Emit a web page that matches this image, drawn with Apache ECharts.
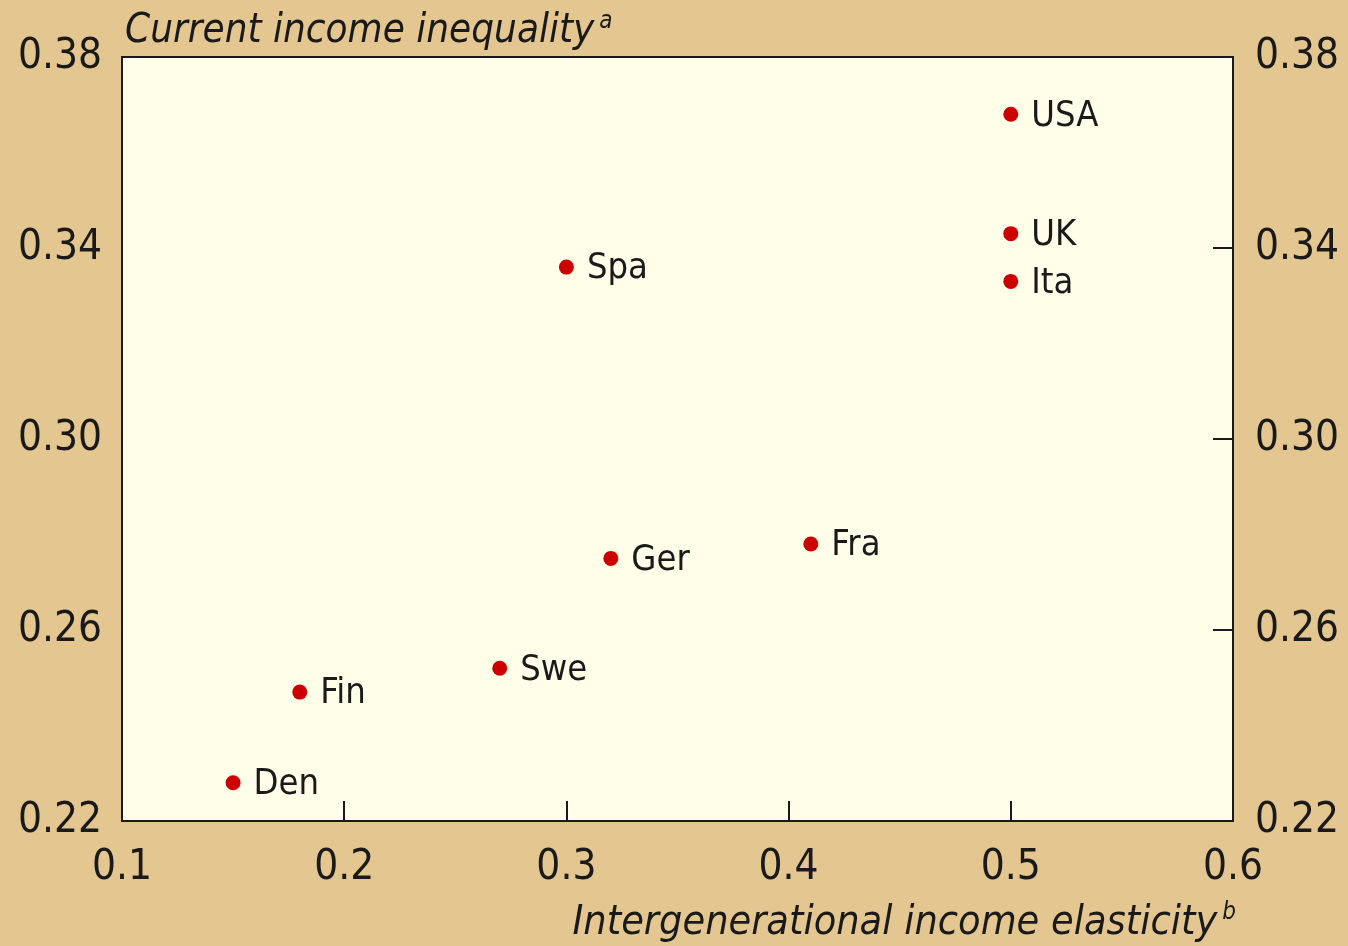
<!DOCTYPE html>
<html>
<head>
<meta charset="utf-8">
<script src="https://cdn.jsdelivr.net/npm/echarts@6/dist/echarts.min.js"></script>
<style>
  html, body { margin: 0; padding: 0; background: #e3c690; }
  #chart { width: 1348px; height: 946px; }
</style>
</head>
<body>
<div id="chart"></div>
<script>
// data
const countries = ['USA', 'UK', 'Ita', 'Spa', 'Ger', 'Fra', 'Swe', 'Fin', 'Den'];
const elasticity = [0.50, 0.50, 0.50, 0.30, 0.32, 0.41, 0.27, 0.18, 0.15];
const inequality = [0.368, 0.343, 0.333, 0.336, 0.275, 0.278, 0.252, 0.247, 0.228];
const yTicks = [0.22, 0.26, 0.30, 0.34, 0.38];
const xTicks = [0.1, 0.2, 0.3, 0.4, 0.5, 0.6];

const font = '"DejaVu Sans Condensed", "Liberation Sans", sans-serif';
const ink = '#1a1a1a';

const chart = echarts.init(document.getElementById('chart'));

const yAxisBase = {
  type: 'value',
  min: yTicks[0],
  max: yTicks[yTicks.length - 1],
  interval: 0.04,
  splitLine: { show: false },
  axisLine: { show: true, lineStyle: { color: ink, width: 2 } },
  axisLabel: {
    color: ink,
    fontSize: 42,
    fontFamily: font,
    formatter: v => v.toFixed(2)
  }
};

const supStyle = { fontSize: 24, fontStyle: 'italic', fontFamily: font, fill: ink, verticalAlign: 'top', padding: [0, 0, 20, 5] };

const option = {
  backgroundColor: '#e3c690',
  textStyle: { fontFamily: font },
  grid: {
    left: 122, right: 115, top: 57, bottom: 125,
    show: true,
    backgroundColor: '#fffee8',
    borderColor: ink,
    borderWidth: 2
  },
  graphic: [
    {
      type: 'text',
      left: 125, top: 10,
      style: {
        text: '{t|Current income inequality}{s|a}',
        rich: {
          t: { fontSize: 40, fontStyle: 'italic', fontFamily: font, fill: ink },
          s: supStyle
        }
      }
    },
    {
      type: 'text',
      right: 112, top: 901,
      style: {
        text: '{t|Intergenerational income elasticity}{s|b}',
        rich: {
          t: { fontSize: 41, fontStyle: 'italic', fontFamily: font, fill: ink },
          s: supStyle
        }
      }
    }
  ],
  xAxis: {
    type: 'value',
    min: xTicks[0],
    max: xTicks[xTicks.length - 1],
    interval: 0.1,
    splitLine: { show: false },
    axisLine: { show: true, lineStyle: { color: ink, width: 2 } },
    axisTick: { show: true, inside: true, length: 20, lineStyle: { color: ink, width: 2 } },
    axisLabel: {
      color: ink,
      fontSize: 42,
      fontFamily: font,
      margin: 26,
      formatter: v => String(+v.toFixed(1))
    }
  },
  yAxis: [
    Object.assign({}, yAxisBase, {
      position: 'left',
      axisTick: { show: false },
      axisLabel: Object.assign({}, yAxisBase.axisLabel, { margin: 20 })
    }),
    Object.assign({}, yAxisBase, {
      position: 'right',
      axisTick: { show: true, inside: true, length: 20, lineStyle: { color: ink, width: 2 } },
      axisLabel: Object.assign({}, yAxisBase.axisLabel, { margin: 22 })
    })
  ],
  series: [{
    type: 'scatter',
    yAxisIndex: 0,
    symbolSize: 15,
    itemStyle: { color: '#cc0000', opacity: 1 },
    emphasis: { disabled: true },
    data: countries.map((c, i) => ({ value: [elasticity[i], inequality[i]], name: c })),
    label: {
      show: true,
      position: 'right',
      distance: 13,
      offset: [0, 2],
      formatter: p => p.name,
      color: ink,
      opacity: 1,
      fontSize: 36,
      fontFamily: font
    }
  }]
};

chart.setOption(option);
</script>
</body>
</html>
